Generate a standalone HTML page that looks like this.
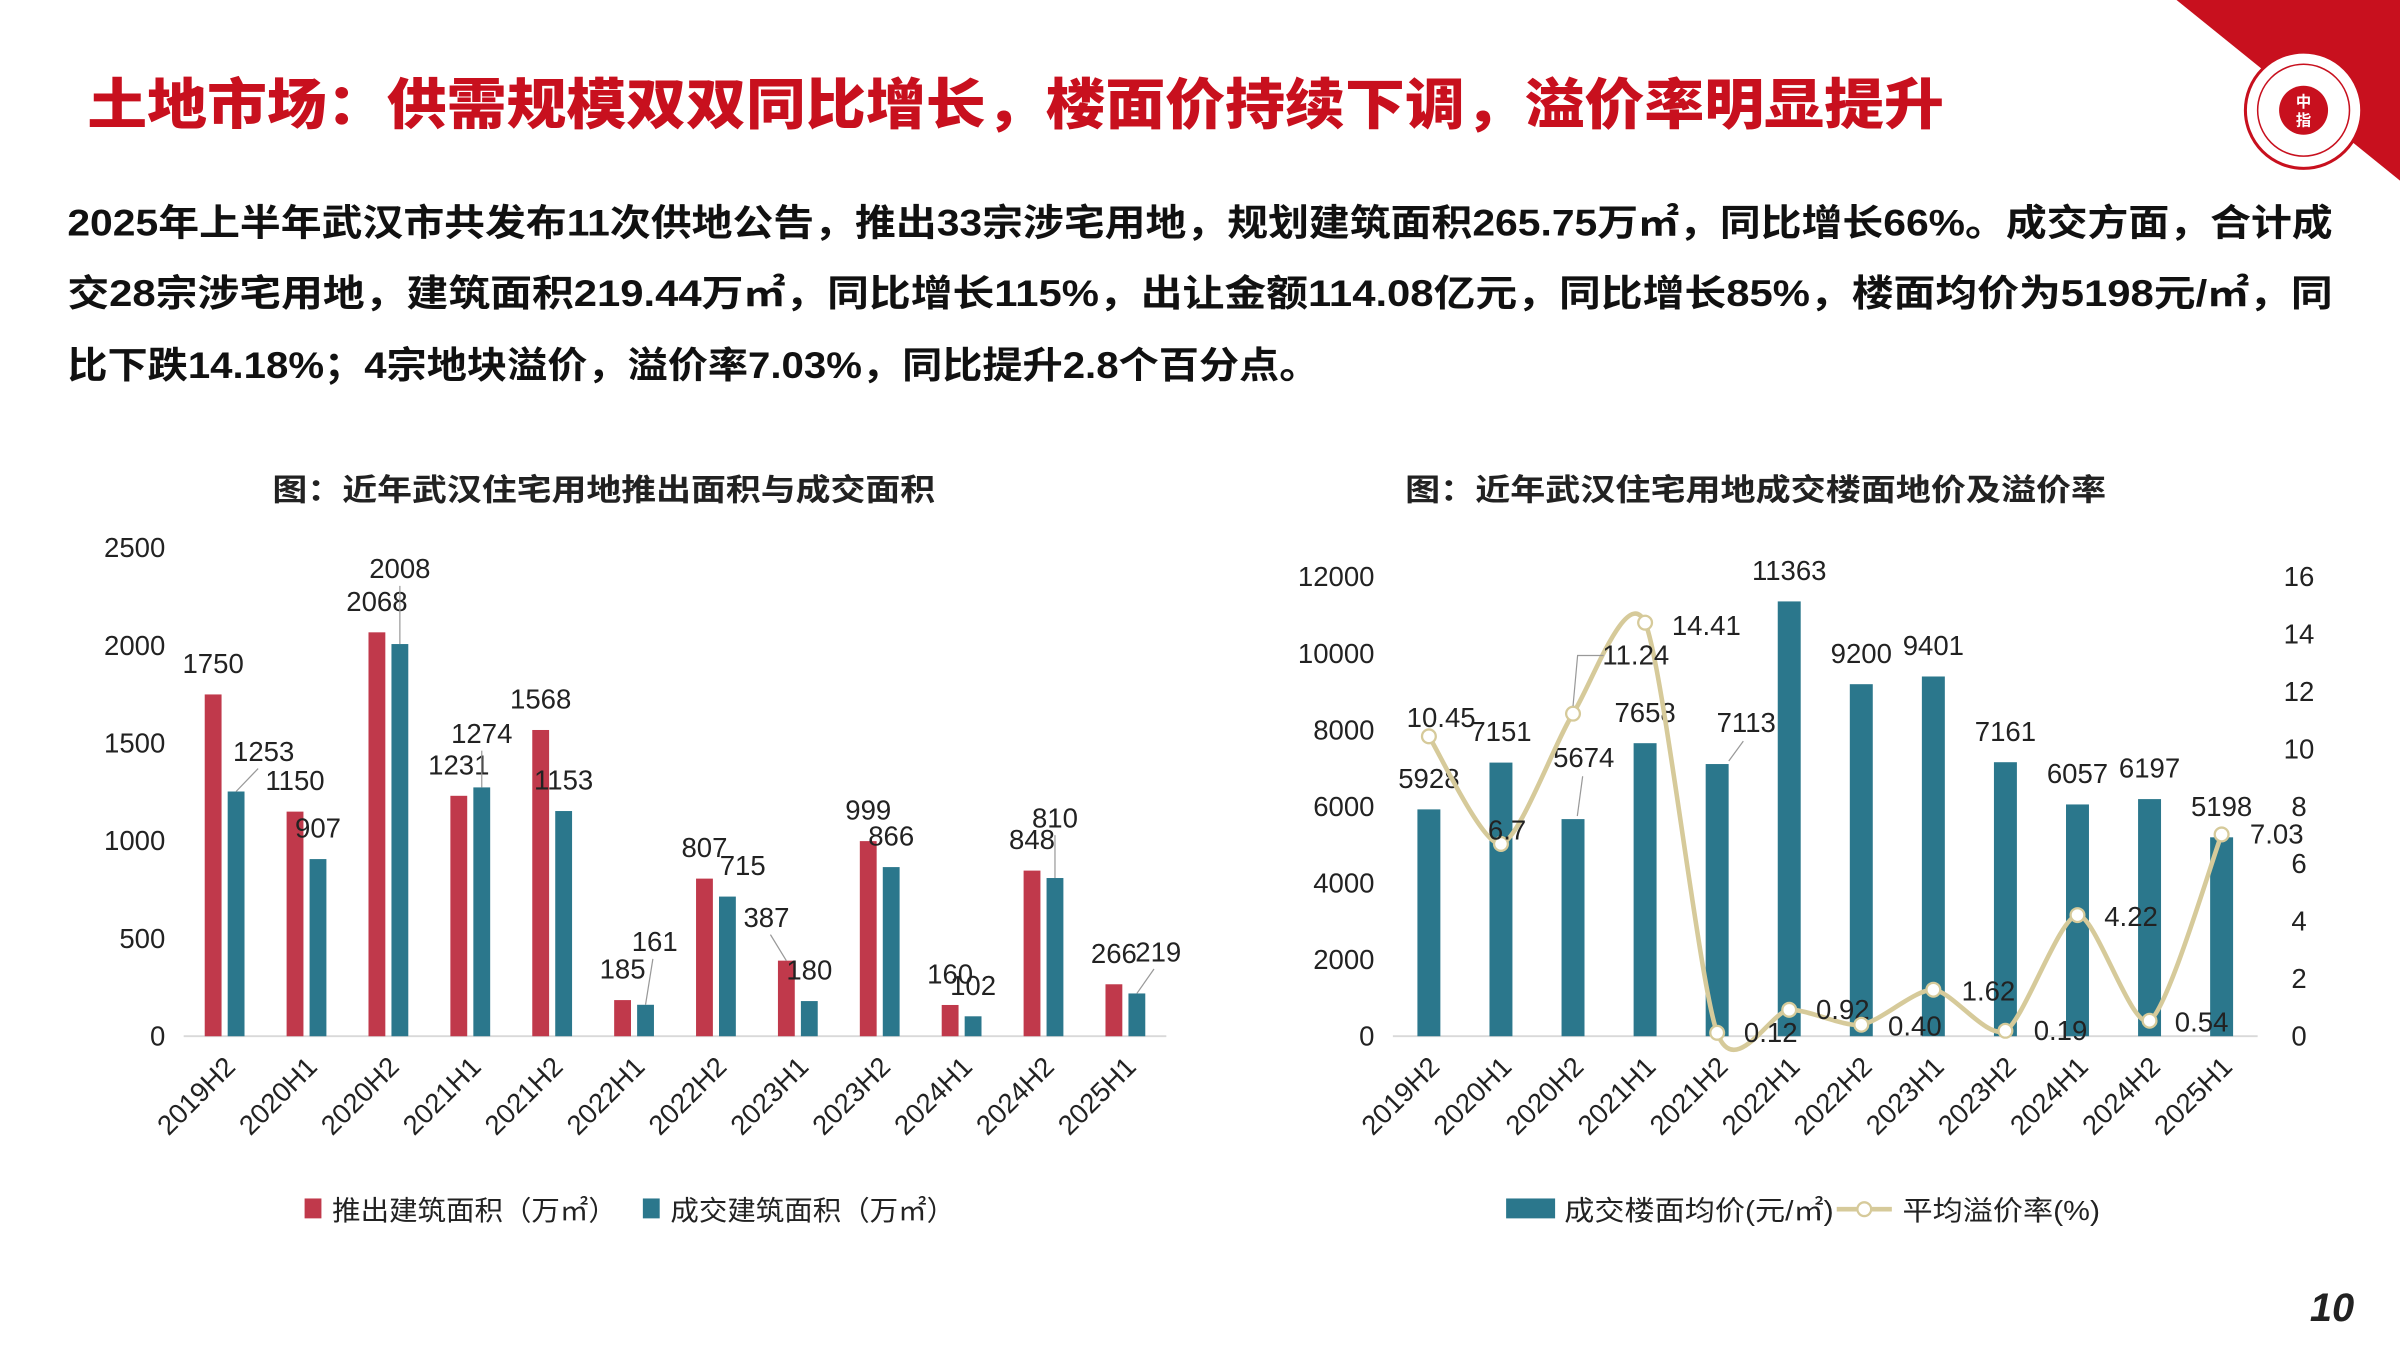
<!DOCTYPE html>
<html><head><meta charset="utf-8"><style>
html,body{margin:0;padding:0;background:#fff;}
svg{display:block;}
text{font-family:"Liberation Sans","Noto Sans CJK SC",sans-serif;}
</style></head><body>
<svg id="s" width="2400" height="1350" viewBox="0 0 1568 882" xmlns="http://www.w3.org/2000/svg">
<polygon points="1422,0 1568,0 1568,118" fill="#c8101e"/>
<g>
<circle cx="1505" cy="72" r="38" fill="#fff" stroke="#c8101e" stroke-width="2"/>
<circle cx="1505" cy="72" r="30" fill="none" stroke="#c8101e" stroke-width="1"/>
<circle cx="1505" cy="72" r="16" fill="#c8101e"/>
<text x="1505" y="70" font-size="10" fill="#fff" text-anchor="middle" font-weight="bold">中</text>
<text x="1505" y="82" font-size="10" fill="#fff" text-anchor="middle" font-weight="bold">指</text>
</g>
<text x="57" y="81" font-size="36" font-weight="900" fill="#c8101e" textLength="1213" lengthAdjust="spacingAndGlyphs">土地市场：供需规模双双同比增长，楼面价持续下调，溢价率明显提升</text>
<g font-size="24" font-weight="bold" fill="#111">
<text x="44" y="154" textLength="1480" lengthAdjust="spacingAndGlyphs">2025年上半年武汉市共发布11次供地公告，推出33宗涉宅用地，规划建筑面积265.75万㎡，同比增长66%。成交方面，合计成</text>
<text x="44" y="200" textLength="1480" lengthAdjust="spacingAndGlyphs">交28宗涉宅用地，建筑面积219.44万㎡，同比增长115%，出让金额114.08亿元，同比增长85%，楼面均价为5198元/㎡，同</text>
<text x="44" y="247" textLength="818" lengthAdjust="spacingAndGlyphs">比下跌14.18%；4宗地块溢价，溢价率7.03%，同比提升2.8个百分点。</text>
</g>
<text x="178" y="327" font-size="20" font-weight="bold" fill="#222" textLength="433" lengthAdjust="spacingAndGlyphs">图：近年武汉住宅用地推出面积与成交面积</text>
<text x="918" y="327" font-size="20" font-weight="bold" fill="#222" textLength="458" lengthAdjust="spacingAndGlyphs">图：近年武汉住宅用地成交楼面地价及溢价率</text>
<g id="L"></g><g id="R"></g>
<g>
<rect x="199" y="783" width="11" height="13" fill="#c0394b"/>
<text x="217" y="797" font-size="18" fill="#222" textLength="186" lengthAdjust="spacingAndGlyphs">推出建筑面积（万㎡）</text>
<rect x="420" y="783" width="11" height="13" fill="#2b778c"/>
<text x="438" y="797" font-size="18" fill="#222" textLength="186" lengthAdjust="spacingAndGlyphs">成交建筑面积（万㎡）</text>
</g>
<g>
<rect x="984" y="783" width="32" height="13" fill="#2b778c"/>
<text x="1022" y="797" font-size="18" fill="#222" textLength="176" lengthAdjust="spacingAndGlyphs">成交楼面均价(元/㎡)</text>
<line x1="1200" y1="790" x2="1236" y2="790" stroke="#d6ca9a" stroke-width="3"/>
<circle cx="1218" cy="790" r="4.5" fill="#fff" stroke="#d6ca9a" stroke-width="1.5"/>
<text x="1243" y="797" font-size="18" fill="#222" textLength="129" lengthAdjust="spacingAndGlyphs">平均溢价率(%)</text>
</g>
<text x="1538" y="863" font-size="26" font-weight="bold" font-style="italic" fill="#222" text-anchor="end">10</text>
</svg>
<script>
const categories=["2019H2","2020H1","2020H2","2021H1","2021H2","2022H1","2022H2","2023H1","2023H2","2024H1","2024H2","2025H1"];
const launchedArea=[1750,1150,2068,1231,1568,185,807,387,999,160,848,266];
const tradedArea=[1253,907,2008,1274,1153,161,715,180,866,102,810,219];
const leftTicks=[0,500,1000,1500,2000,2500];
const floorPrice=[5928,7151,5674,7658,7113,11363,9200,9401,7161,6057,6197,5198];
const premiumRate=[10.45,6.7,11.24,14.41,0.12,0.92,0.40,1.62,0.19,4.22,0.54,7.03];
const premiumLabels=["10.45","6.7","11.24","14.41","0.12","0.92","0.40","1.62","0.19","4.22","0.54","7.03"];
const rightTicksL=[0,2000,4000,6000,8000,10000,12000];
const rightTicksR=[0,2,4,6,8,10,12,14,16];

const NS="http://www.w3.org/2000/svg";
function mk(p,tag,at,txt){const e=document.createElementNS(NS,tag);for(const k in at)e.setAttribute(k,at[k]);if(txt!=null)e.textContent=txt;p.appendChild(e);return e;}
const FS=18;
// Left chart
const L=document.getElementById('L');
const lx0=120,lx1=762,ly0=677,ly1=358;
const lX=i=>lx0+(lx1-lx0)/12*(i+0.5);
const lY=v=>ly0-(ly0-ly1)*v/2500;
mk(L,'line',{x1:lx0,x2:lx1,y1:ly0,y2:ly0,stroke:'#d9d9d9','stroke-width':1.2});
leftTicks.forEach(t=>{const e=mk(L,'text',{x:108,y:lY(t)+6,'font-size':FS,'text-anchor':'end',fill:'#222'},t);

});
const lRedOff=[[0,0],[0,0],[0,0],[0,0],[0,0],[0,0],[0,0],[-13,-8],[0,0],[0,0],[0,0],[0,0]];
const lTealOff=[[18,-6],[0,0],[0,-29],[0,-15],[0,0],[6,-21],[10,0],[0,0],[0,0],[0,0],[0,-19],[14,-7]];
categories.forEach((c,i)=>{
  const cx=lX(i),bw=11;
  const r=mk(L,'rect',{x:cx-bw-2,y:lY(launchedArea[i]),width:bw,height:ly0-lY(launchedArea[i]),fill:'#c0394b'});
  
  
  const t=mk(L,'rect',{x:cx+2,y:lY(tradedArea[i]),width:bw,height:ly0-lY(tradedArea[i]),fill:'#2b778c'});
  
  
  const rx=cx-bw/2-2,tx=cx+bw/2+2;
  const a=mk(L,'text',{x:rx+lRedOff[i][0],y:lY(launchedArea[i])-14+lRedOff[i][1],'font-size':FS,'text-anchor':'middle',fill:'#222'},launchedArea[i]);
  
  
  const b=mk(L,'text',{x:tx+lTealOff[i][0],y:lY(tradedArea[i])-14+lTealOff[i][1],'font-size':FS,'text-anchor':'middle',fill:'#222'},tradedArea[i]);
  
  
  if(lTealOff[i][1]<-5){mk(L,'line',{x1:tx,y1:lY(tradedArea[i]),x2:tx+lTealOff[i][0]*0.8,y2:lY(tradedArea[i])-14+lTealOff[i][1]+5,stroke:'#999','stroke-width':0.8});}
  if(lRedOff[i][1]<-5){mk(L,'line',{x1:rx,y1:lY(launchedArea[i]),x2:rx+lRedOff[i][0]*0.8,y2:lY(launchedArea[i])-14+lRedOff[i][1]+5,stroke:'#999','stroke-width':0.8});}
  const xl=mk(L,'text',{x:0,y:0,'font-size':FS,'text-anchor':'end',fill:'#222',transform:`translate(${cx+8},${698}) rotate(-45)`},c);
  
  
});

// Right chart
const R=document.getElementById('R');
const rx0=910,rx1=1475,ry0=677,ry1=377;
const rX=i=>rx0+(rx1-rx0)/12*(i+0.5);
const rY=v=>ry0-(ry0-ry1)*v/12000;
const rY2=v=>ry0-(ry0-ry1)*v/16;
mk(R,'line',{x1:rx0,x2:rx1,y1:ry0,y2:ry0,stroke:'#d9d9d9','stroke-width':1.2});
rightTicksL.forEach(t=>{const e=mk(R,'text',{x:898,y:rY(t)+6,'font-size':FS,'text-anchor':'end',fill:'#222'},t);

});
rightTicksR.forEach(t=>{const e=mk(R,'text',{x:1502,y:rY2(t)+6,'font-size':FS,'text-anchor':'middle',fill:'#222'},t);

});
const pOff=[[0,0],[0,0],[7,-20],[0,0],[19,-7],[0,0],[0,0],[0,0],[0,0],[0,0],[0,0],[0,0]];
const lOff=[[8,-6],[4,-3],[41,-32],[40,8],[35,6],[35,6],[35,7],[36,7],[36,6],[35,7],[34,7],[36,6]];
categories.forEach((c,i)=>{
  const cx=rX(i);
  const b=mk(R,'rect',{x:cx-7.5,y:rY(floorPrice[i]),width:15,height:ry0-rY(floorPrice[i]),fill:'#2b778c'});
  
  
  const t=mk(R,'text',{x:cx+pOff[i][0],y:rY(floorPrice[i])-14+pOff[i][1],'font-size':FS,'text-anchor':'middle',fill:'#222'},floorPrice[i]);
  
  
  if(pOff[i][1]<-5){mk(R,'line',{x1:cx+pOff[i][0]*0.4,y1:rY(floorPrice[i])-2,x2:cx+pOff[i][0]*0.9,y2:rY(floorPrice[i])-14+pOff[i][1]+6,stroke:'#999','stroke-width':0.8});}
  const xl=mk(R,'text',{x:0,y:0,'font-size':FS,'text-anchor':'end',fill:'#222',transform:`translate(${cx+8},${698}) rotate(-45)`},c);
  
  
});
const pts=premiumRate.map((v,i)=>[rX(i),rY2(v)]);
let d=`M${pts[0][0]},${pts[0][1]}`;
const k=1/8;
for(let i=0;i<pts.length-1;i++){
  const p0=pts[Math.max(0,i-1)],p1=pts[i],p2=pts[i+1],p3=pts[Math.min(pts.length-1,i+2)];
  const c1=[p1[0]+(p2[0]-p0[0])*k,p1[1]+(p2[1]-p0[1])*k],c2=[p2[0]-(p3[0]-p1[0])*k,p2[1]-(p3[1]-p1[1])*k];
  d+=` C${c1[0]},${c1[1]} ${c2[0]},${c2[1]} ${p2[0]},${p2[1]}`;
}
const ln=mk(R,'path',{d:d,fill:'none',stroke:'#d6ca9a','stroke-width':3});


pts.forEach((p,i)=>{
  const m=mk(R,'circle',{cx:p[0],cy:p[1],r:4.5,fill:'#fff',stroke:'#d6ca9a','stroke-width':1.5});
  
  
  const t=mk(R,'text',{x:p[0]+lOff[i][0],y:p[1]+lOff[i][1],'font-size':FS,'text-anchor':'middle',fill:'#222'},premiumLabels[i]);
  
  
  if(i===2){mk(R,'polyline',{points:`${p[0]},${p[1]-5} ${p[0]+3},${p[1]-38} ${p[0]+20},${p[1]-38}`,fill:'none',stroke:'#999','stroke-width':0.8});}
});
</script>
</body></html>
